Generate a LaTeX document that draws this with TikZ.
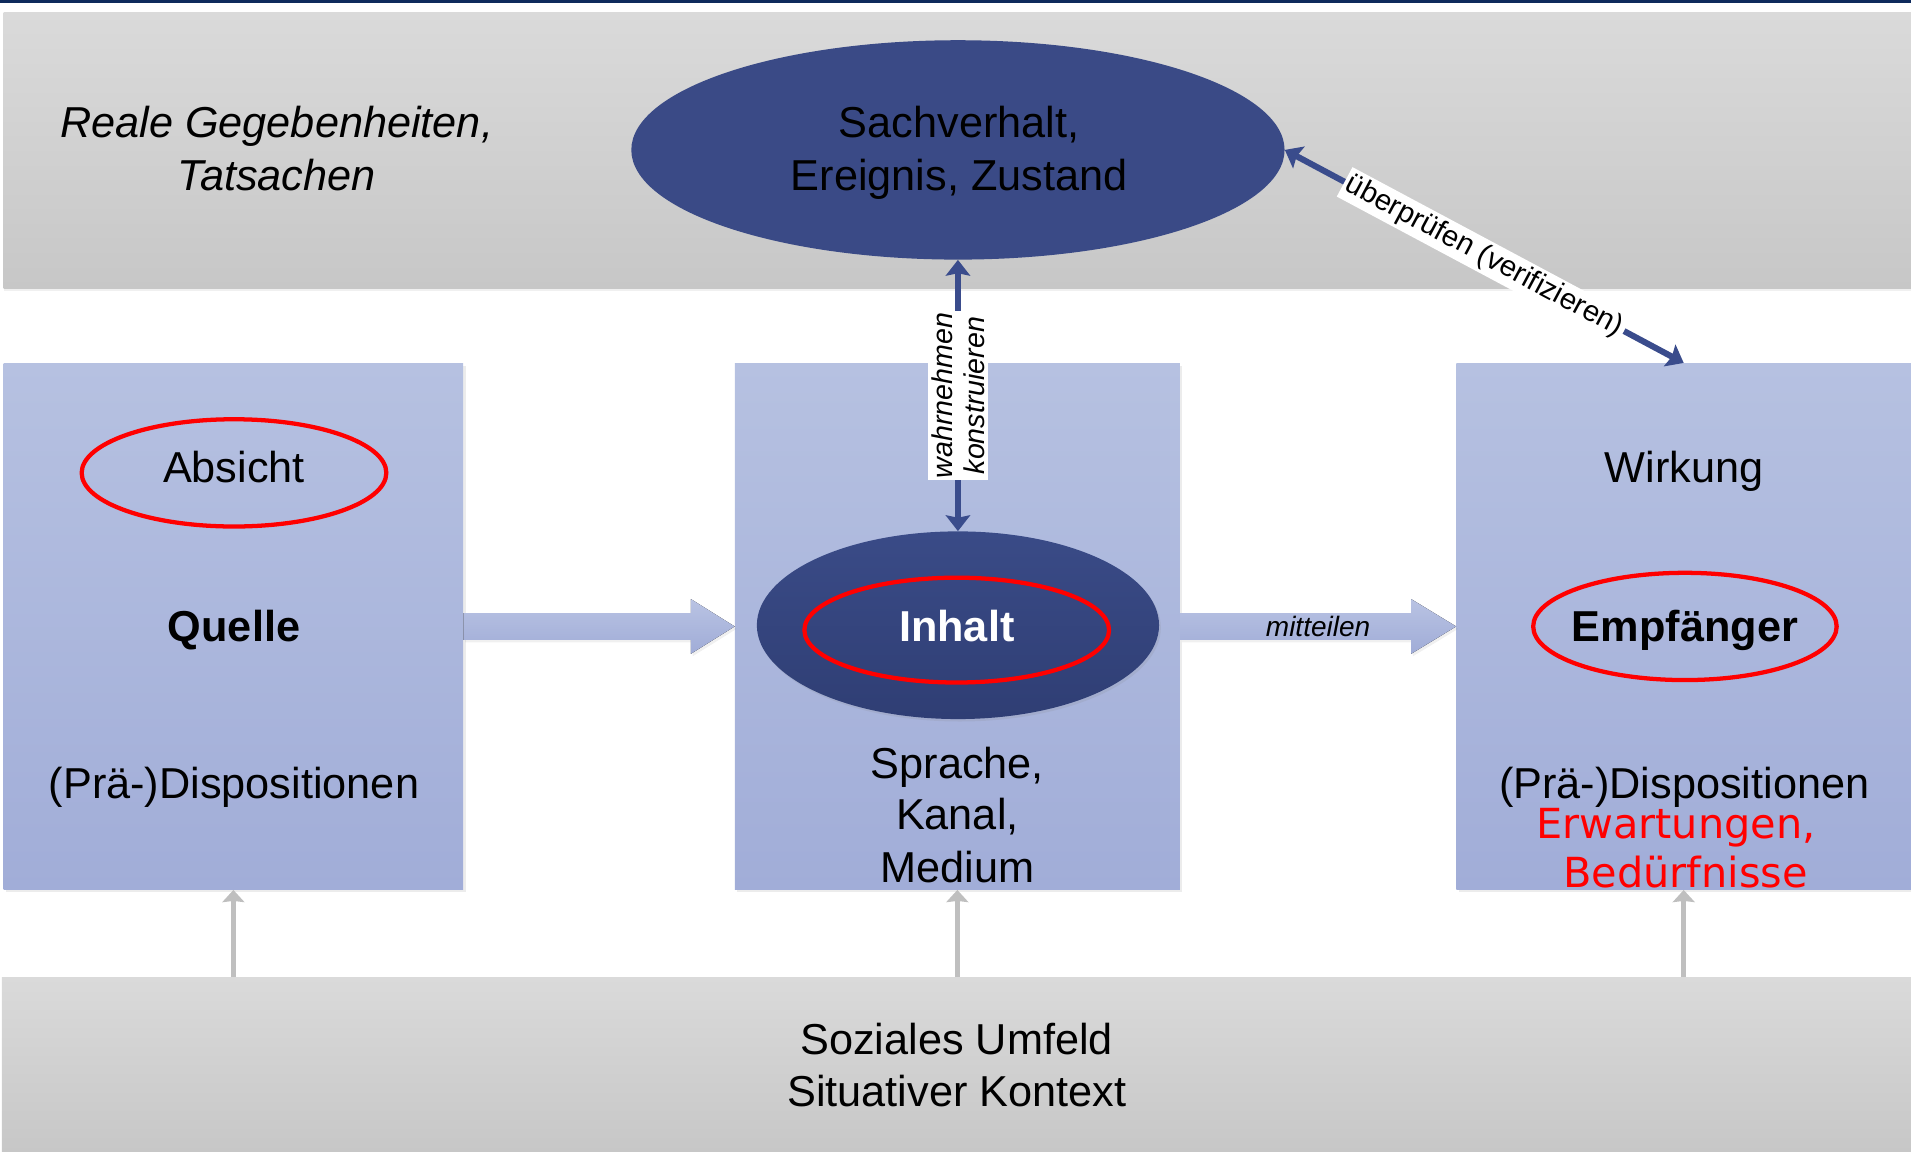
\documentclass[tikz,border=0pt]{standalone}
\usepackage{fontspec}
\setmainfont{Liberation Sans}
\newfontfamily\dejavu{DejaVu Sans}
\usetikzlibrary{arrows.meta,shapes.geometric,shadows,calc}

\definecolor{topline}{HTML}{0E2A5C}
\definecolor{bandtop}{HTML}{DADADA}
\definecolor{bandbot}{HTML}{C7C7C7}
\definecolor{paneltop}{HTML}{B6C1E1}
\definecolor{panelbot}{HTML}{A1ADD8}
\definecolor{navyfill}{HTML}{3A4A86}
\definecolor{navytop}{HTML}{3A4B87}
\definecolor{navybot}{HTML}{2F3E74}
\definecolor{arrowblue}{HTML}{3A4C8C}
\definecolor{arrowgray}{HTML}{BFBFBF}
\definecolor{fattop}{HTML}{B9C3E3}
\definecolor{fatbot}{HTML}{A0ACD7}

\newcommand\bigsize{\fontsize{35.5}{43}\selectfont}

\begin{document}
\begin{tikzpicture}[x=1pt,y=-1pt,
  txt/.style={anchor=base,inner sep=0pt,font=\bigsize},
  band/.style={rectangle,inner sep=0pt,top color=bandtop,bottom color=bandbot,
    drop shadow={opacity=0.12,shadow xshift=0pt,shadow yshift=-2pt}},
  panel/.style={rectangle,inner sep=0pt,minimum height=432pt,top color=paneltop,bottom color=panelbot,
    drop shadow={opacity=0.15,shadow xshift=2pt,shadow yshift=-2pt}},
  ring/.style={ellipse,draw=red,line width=3.5pt,inner sep=0pt},
  navyline/.style={draw=arrowblue,line width=5pt,
    {Stealth[length=13pt,width=20pt,inset=2pt]}-{Stealth[length=13pt,width=20pt,inset=2pt]}},
  grayline/.style={draw=arrowgray,line width=4.5pt,-{Stealth[length=10pt,width=18pt,inset=1pt]}},
  fatarrow/.style={top color=fattop,bottom color=fatbot,
    drop shadow={opacity=0.12,shadow xshift=1.5pt,shadow yshift=-2pt}},
]
\useasboundingbox (0,0) rectangle (1568,945);

% thin rule along the top edge
\fill[topline] (0,0) rectangle (1568,2.5);

% background bands
\node[band,minimum width=1565pt,minimum height=227pt] (real) at (785.5,123.5) {};
\node[band,minimum width=1566.5pt,minimum height=143pt] (umfeld) at (784.75,873.5) {};

% three panels
\node[panel,minimum width=377pt] (lbox) at (191.5,514) {};
\node[panel,minimum width=365pt] (mbox) at (785.5,514) {};
\node[panel,minimum width=373pt] (rbox) at (1381.5,514) {};

% upper band: facts
\node[txt,font=\bigsize\itshape] (reale1) at (227,113) {Reale Gegebenheiten,};
\node[txt,font=\bigsize\itshape] (reale2) at (227,156) {Tatsachen};
\node[ellipse,fill=navyfill,inner sep=0pt,minimum width=536pt,minimum height=180pt] (sach) at (786,123) {};
\node[txt] (sach1) at (787,113) {Sachverhalt,};
\node[txt] (sach2) at (787,156) {Ereignis, Zustand};

% source panel
\node[ring,minimum width=250pt,minimum height=88pt] (absring) at (192,388) {};
\node[txt] (absicht) at (192,396) {Absicht};
\node[txt,font=\bigsize\bfseries] (quelle) at (192,526) {Quelle};
\node[txt] (dispo1) at (192,655) {(Prä-)Dispositionen};

% content panel
\node[ellipse,inner sep=0pt,minimum width=330pt,minimum height=154pt,top color=navytop,bottom color=navybot,
  drop shadow={opacity=0.15,shadow xshift=1.5pt,shadow yshift=-2pt}] (inhalt) at (786,513) {};
\node[ring,minimum width=250pt,minimum height=86pt] (inhring) at (785,517) {};
\node[txt,font=\bigsize\bfseries,text=white] (inhtxt) at (785,526) {Inhalt};
\node[txt] (spr1) at (785.5,639) {Sprache,};
\node[txt] (spr2) at (785.5,681) {Kanal,};
\node[txt] (spr3) at (785.5,724) {Medium};

% receiver panel
\node[txt] (wirkung) at (1382,396) {Wirkung};
\node[ring,minimum width=249pt,minimum height=88pt] (empring) at (1382.5,514) {};
\node[txt,font=\bigsize\bfseries] (empf) at (1382.5,526) {Empfänger};
\node[txt] (dispo2) at (1382,655) {(Prä-)Dispositionen};
\node[txt,font=\dejavu\fontsize{34}{40}\selectfont,text=red] (erw1) at (1375,688) {Erwartungen,};
\node[txt,font=\dejavu\fontsize{34}{40}\selectfont,text=red] (erw2) at (1383,728.5) {Bedürfnisse};

% lower band: social context
\node[txt] (soz1) at (785,865) {Soziales Umfeld};
\node[txt] (soz2) at (785,908) {Situativer Kontext};

% broad arrows between the panels
\fill[fatarrow] ([yshift=11pt]lbox.east) -- ([xshift=-36pt,yshift=11pt]mbox.west)
  -- ([xshift=-36pt,yshift=22.5pt]mbox.west) -- (mbox.west)
  -- ([xshift=-36pt,yshift=-22.5pt]mbox.west) -- ([xshift=-36pt,yshift=-11pt]mbox.west)
  -- ([yshift=-11pt]lbox.east) -- cycle;
\fill[fatarrow] ([yshift=11pt]mbox.east) -- ([xshift=-37pt,yshift=11pt]rbox.west)
  -- ([xshift=-37pt,yshift=22.5pt]rbox.west) -- (rbox.west)
  -- ([xshift=-37pt,yshift=-22.5pt]rbox.west) -- ([xshift=-37pt,yshift=-11pt]rbox.west)
  -- ([yshift=-11pt]mbox.east) -- cycle;
\node[anchor=base,inner sep=0pt,font=\fontsize{23}{26}\selectfont\itshape] (mitt)
  at ($(mbox.east)!0.5!(rbox.west)+(0,8)$) {mitteilen};

% perception and verification
\draw[navyline] (sach.south) -- node[fill=white,rotate=90,align=center,inner xsep=1pt,inner ysep=3pt,
  font=\fontsize{23.5}{26}\selectfont\itshape] (wk) {wahrnehmen\\konstruieren} (inhalt.north);
\draw[navyline] (sach.east) -- node[sloped,fill=white,inner sep=2.5pt,
  font=\fontsize{24}{28}\selectfont] (verif) {überprüfen (verifizieren)} (rbox.north);

% influence of the social context
\draw[grayline] (lbox.south |- umfeld.north) -- (lbox.south);
\draw[grayline] (mbox.south |- umfeld.north) -- (mbox.south);
\draw[grayline] (rbox.south |- umfeld.north) -- (rbox.south);
\end{tikzpicture}
\end{document}
